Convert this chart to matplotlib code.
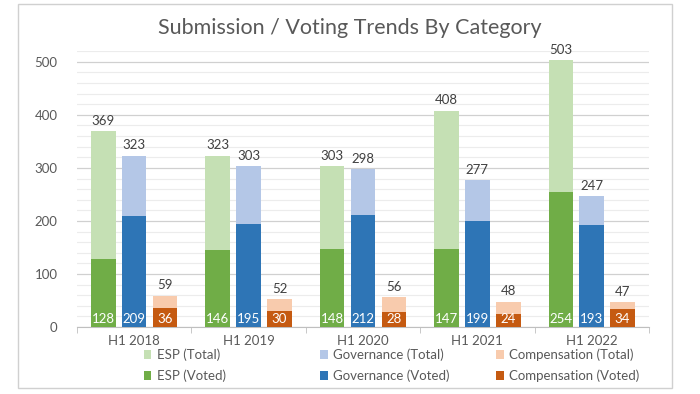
import matplotlib
matplotlib.use("Agg")
import matplotlib.pyplot as plt
from matplotlib.patches import Rectangle
from matplotlib.ticker import MultipleLocator
import numpy as np

plt.rcParams['font.family'] = ['Lato', 'DejaVu Sans']

# data
periods = ["H1 2018", "H1 2019", "H1 2020", "H1 2021", "H1 2022"]
esp_total = [369, 323, 303, 408, 503]
esp_voted = [128, 146, 148, 147, 254]
gov_total = [323, 303, 298, 277, 247]
gov_voted = [209, 195, 212, 199, 193]
comp_total = [59, 52, 56, 48, 47]
comp_voted = [36, 30, 28, 24, 34]

series = [
    ("ESP", esp_total, esp_voted, "#c5e0b4", "#70ad47"),
    ("Governance", gov_total, gov_voted, "#b4c7e7", "#2e75b6"),
    ("Compensation", comp_total, comp_voted, "#f8cbad", "#c55a11"),
]

fig = plt.figure(figsize=(7, 3.94), dpi=100)
ax = fig.add_axes([0.11, 0.17, 0.817, 0.70])

# outer light frame like the spreadsheet chart area
fig.patches.append(Rectangle((0.026, 0.015), 0.934, 0.975, transform=fig.transFigure,
                             fill=False, edgecolor="#d0d0d0", linewidth=1))

x = np.arange(len(periods))
w = 0.215
offs = [-0.27, 0.0, 0.27]

# legend columns are evenly spaced, one small legend per category
leg_x = [0.205, 0.457, 0.708]

for (name, tot, vot, ct, cv), off, lx in zip(series, offs, leg_x):
    ht = ax.bar(x + off, tot, w, color=ct, label=f"{name} (Total)", zorder=2)
    hv = ax.bar(x + off, vot, w, color=cv, label=f"{name} (Voted)", zorder=3)
    for xi, v in zip(x, tot):
        ax.text(xi + off, v + 8, str(v), ha="center", va="bottom",
                fontsize=9.5, color="#404040")
    for xi, v in zip(x, vot):
        ax.text(xi + off, 4, str(v), ha="center", va="bottom",
                fontsize=9.5, color="white", zorder=4)
    fig.legend(handles=[ht, hv], loc="upper left", bbox_to_anchor=(lx, 0.115),
               frameon=False, borderpad=0, borderaxespad=0,
               fontsize=9.5, labelcolor="#595959", handlelength=0.6, handleheight=0.6,
               handletextpad=0.4, labelspacing=0.62)

ax.set_ylim(0, 520)
ax.set_xlim(-0.5, len(periods) - 0.5)
ax.yaxis.set_major_locator(MultipleLocator(100))
ax.yaxis.set_minor_locator(MultipleLocator(20))
ax.grid(axis="y", which="major", color="#d0d0d0", linewidth=0.9, zorder=0)
ax.grid(axis="y", which="minor", color="#ececec", linewidth=0.8, zorder=0)
ax.set_axisbelow(True)

ax.set_xticks(x)
ax.set_xticklabels(periods, fontsize=9.5, color="#595959")
ax.set_xticks(np.arange(len(periods) + 1) - 0.5, minor=True)
ax.tick_params(axis="x", which="major", length=0, pad=6)
ax.tick_params(axis="x", which="minor", length=4, color="#bfbfbf")
ax.tick_params(axis="y", which="both", length=0, labelsize=9.5, labelcolor="#595959", pad=14)

for s in ["top", "right", "left"]:
    ax.spines[s].set_visible(False)
ax.spines["bottom"].set_color("#bfbfbf")

fig.text(0.5, 0.93, "Submission / Voting Trends By Category", ha="center", va="center",
         fontsize=15.5, color="#595959")

fig.savefig("out.png", dpi=100)
